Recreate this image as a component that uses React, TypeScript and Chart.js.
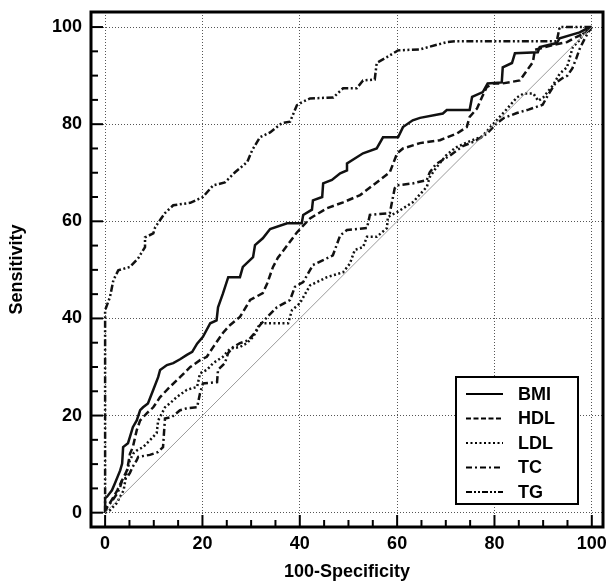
import React, { useEffect, useRef } from 'react';
import { Chart, registerables } from 'chart.js';

Chart.register(...registerables);

// ---------- data ----------
const SERIES_NAMES = ['BMI', 'HDL', 'LDL', 'TC', 'TG'];

const REF_X = [0, 100];
const REF_Y = [0, 100];

const BMI_X = [0, 0, 0.4, 1.4, 2, 3.1, 3.5, 3.7, 4.7, 5.1, 5.7, 6.5, 7.2, 7.8, 8.8, 9.9, 10.9, 11.3, 12.7, 14, 15.4, 16.8, 17.9, 18.9, 20.1, 21.6, 22.9, 23.2, 24.2, 25.3, 27.7, 28.3, 30.4, 30.8, 32.4, 33.9, 37.4, 40.4, 40.7, 42.5, 42.7, 44.6, 44.8, 46.6, 48.3, 49.7, 49.7, 53, 55.8, 57.1, 60.2, 61.2, 63.2, 64.7, 69.4, 70.2, 74.9, 75.4, 77.6, 78.6, 81.5, 81.7, 83.6, 84.2, 88.9, 89.3, 92.8, 93.4, 97.5, 99.2, 100];
const BMI_Y = [0, 3, 3.3, 4.6, 6, 8.7, 10.1, 13.5, 14.3, 15.6, 17.6, 19, 21.1, 21.7, 22.5, 25.3, 27.9, 29.4, 30.4, 30.8, 31.6, 32.5, 33.1, 34.8, 36.2, 39, 39.6, 42.3, 45.1, 48.5, 48.5, 50.6, 52.6, 55.1, 56.5, 58.4, 59.6, 59.6, 61.3, 62.4, 64.3, 65, 67.8, 68.5, 69.9, 70.5, 71.9, 74, 75, 77.3, 77.3, 79.4, 80.8, 81.3, 82.2, 82.9, 82.9, 85.6, 86.6, 88.4, 88.6, 91.7, 92.6, 94.6, 94.8, 95.9, 96.7, 97.7, 98.9, 99.8, 100];

const HDL_X = [0, 0.3, 1, 2.5, 3.5, 4.5, 5.1, 5.7, 6.5, 7.2, 8.6, 9.9, 11.3, 13.3, 15.4, 17.5, 19.5, 20.9, 22.2, 24.2, 25.5, 27.7, 29.8, 32.4, 33.3, 34.5, 35.5, 37.4, 39.4, 42.1, 45.6, 48.9, 52.4, 55, 58.5, 60, 61.2, 64.7, 68.8, 72.3, 74.3, 74.9, 76.4, 77.4, 78.4, 79.7, 81.7, 85.2, 86.7, 87.9, 88.3, 92, 94.9, 96.9, 99, 100];
const HDL_Y = [0, 1, 2, 4.6, 6.7, 8.7, 12.1, 13.5, 17, 19, 20.5, 21.7, 23.8, 25.9, 27.9, 30, 31.4, 32.1, 34.1, 37, 38.5, 40.3, 43.8, 45.2, 47.2, 50.6, 52.5, 55, 57.7, 60.6, 62.7, 63.9, 65.4, 67.4, 70.1, 74, 75, 76.1, 76.7, 78.1, 79.4, 81.5, 83.2, 85.5, 87.6, 88.4, 88.4, 89, 91.1, 92.8, 95.3, 96.3, 96.9, 98, 99, 100];

const LDL_X = [0, 1, 2.4, 3.8, 4.5, 5.1, 5.8, 6.5, 7.8, 9.2, 10.6, 10.9, 11.7, 12.3, 13.3, 14.7, 16.8, 18.9, 19.5, 20.9, 22.2, 24.2, 25.7, 27.7, 29.1, 30.4, 31.2, 31.8, 37.6, 38.4, 40, 42.1, 45.6, 48.9, 50.3, 51.3, 53, 53.8, 55.8, 57.9, 58.1, 60, 63.2, 66.1, 66.7, 68, 70, 72, 75, 77.5, 79.7, 82, 84.6, 86, 88, 89, 90, 92, 93.4, 94.9, 95.5, 96.1, 97.5, 98.2, 100];
const LDL_Y = [0, 0.5, 2, 4.6, 8.7, 10.8, 12.2, 12.8, 13.5, 14.9, 16.4, 19, 20.5, 21.7, 22.5, 23.8, 25.3, 25.9, 28.7, 29.4, 30.8, 32.1, 33.8, 34.1, 34.9, 36.2, 37.6, 39, 39, 41.7, 43.1, 46.8, 48.5, 49.5, 51.3, 54.1, 54.7, 56.8, 56.8, 58.6, 60.9, 61.9, 63.9, 67.1, 69.1, 71, 73.5, 75.2, 76.5, 77.5, 80, 82.5, 85.5, 86.3, 86.3, 84.8, 85.5, 88, 90.4, 91.7, 93.8, 95.9, 97.3, 98.6, 100];

const TC_X = [0, 0.4, 1.5, 2.5, 3.1, 3.5, 4.5, 5.1, 5.7, 6.5, 6.8, 9.2, 10.9, 11.9, 12.3, 13.7, 15.4, 16.8, 18.9, 19.5, 20.1, 23, 23.2, 24.6, 25.3, 26.3, 27.7, 29.4, 30.4, 31.8, 33.5, 35.3, 38, 39, 40.7, 42.7, 44.8, 46.8, 48.3, 49.7, 53.8, 54.4, 58.5, 59.5, 60, 63.2, 66.1, 66.7, 68, 70.8, 73.5, 76, 78.4, 80.5, 82, 84.6, 87, 89.9, 91, 92.5, 94, 95, 96, 96.8, 97.5, 98.5, 99.3, 100];
const TC_Y = [0, 1.2, 2.5, 4, 5.3, 6.7, 7.3, 8.2, 9.5, 10.8, 11.5, 11.9, 12.5, 13.5, 19.4, 19.7, 21.1, 21.5, 21.7, 24.6, 26.6, 26.9, 29.4, 30.8, 32.9, 34.1, 34.9, 35.5, 36.6, 38.6, 40.5, 42.3, 43.8, 46.5, 47.5, 51, 52, 53, 57.1, 58.2, 58.6, 61.3, 61.7, 66.8, 67.4, 67.8, 68.5, 70.1, 71.8, 73.5, 75.5, 76.5, 78, 80.2, 81.3, 82.3, 83, 84, 86, 88.4, 89.5, 90, 91.5, 93.5, 95.5, 97.5, 99, 100];

const TG_X = [0, 0, 1, 1.7, 2.7, 5.1, 6.8, 8.2, 8.2, 9.9, 10.3, 12.3, 14, 17.5, 20.1, 22.2, 24.6, 26.7, 29.2, 30.2, 31.8, 33.9, 36.3, 38, 39.4, 40.4, 42.1, 46.9, 48.9, 51.7, 53, 55.4, 55.8, 57.9, 60.2, 64.7, 70.2, 72.3, 92.8, 93.4, 100];
const TG_Y = [0, 41.7, 44.4, 47.9, 49.9, 50.6, 52.4, 54.7, 56.7, 57.5, 58.8, 61.7, 63.3, 63.8, 65, 67.4, 68, 70.1, 72.2, 74.6, 77.3, 78.3, 80.2, 80.5, 83.9, 84.5, 85.3, 85.5, 87.4, 87.4, 89, 89.2, 92.6, 93.8, 95.2, 95.4, 96.9, 97.1, 97.1, 100, 100];

const TICK_VALUES = [0, 20, 40, 60, 80, 100];
const MINOR_TICK_VALUES = [0, 5, 10, 15, 20, 25, 30, 35, 40, 45, 50, 55, 60, 65, 70, 75, 80, 85, 90, 95, 100];

const X_TITLE = '100-Specificity';
const Y_TITLE = 'Sensitivity';

// ---------- styles ----------
const FONT_FAMILY = '"Liberation Sans", Arial, Helvetica, sans-serif';
const DASHES: number[][] = [[], [7, 3.5], [2, 2.5], [7, 3, 2, 3], [7, 2.5, 2, 2.5, 2, 2.5]];
const LEGEND_DASHES: number[][] = [[], [5, 2.5], [2, 2.5], [6, 3, 2, 3], [6, 2, 2, 2, 2, 2]];

const mk = (xs: number[], ys: number[]) => xs.map((x, i) => ({ x, y: ys[i] }));

const SERIES_X = [BMI_X, HDL_X, LDL_X, TC_X, TG_X];
const SERIES_Y = [BMI_Y, HDL_Y, LDL_Y, TC_Y, TG_Y];

const framePlugin = {
  id: 'rocFrame',
  afterDatasetsDraw(chart: any) {
    const { ctx, chartArea: a, scales } = chart;
    const xs = scales.x;
    const ys = scales.y;
    ctx.save();
    ctx.strokeStyle = '#000';
    ctx.setLineDash([]);
    ctx.lineWidth = 2;
    MINOR_TICK_VALUES.forEach((v) => {
      const len = v % 20 === 0 ? 12 : 7;
      const px = xs.getPixelForValue(v);
      ctx.beginPath();
      ctx.moveTo(px, a.bottom);
      ctx.lineTo(px, a.bottom - len);
      ctx.stroke();
      const py = ys.getPixelForValue(v);
      ctx.beginPath();
      ctx.moveTo(a.left, py);
      ctx.lineTo(a.left + len, py);
      ctx.stroke();
    });
    ctx.lineWidth = 3;
    ctx.strokeRect(a.left, a.top, a.right - a.left, a.bottom - a.top);

    // legend box
    const bw = 122;
    const bh = 127;
    const bx = a.right - 25 - bw;
    const by = a.bottom - 23 - bh;
    ctx.fillStyle = '#fff';
    ctx.fillRect(bx, by, bw, bh);
    ctx.lineWidth = 2;
    ctx.strokeRect(bx, by, bw, bh);
    ctx.font = `bold 18px ${FONT_FAMILY}`;
    ctx.textBaseline = 'middle';
    ctx.textAlign = 'left';
    ctx.fillStyle = '#000';
    SERIES_NAMES.forEach((name, i) => {
      const ry = by + 17 + i * 24.5;
      ctx.lineWidth = 2;
      ctx.setLineDash(LEGEND_DASHES[i]);
      ctx.beginPath();
      ctx.moveTo(bx + 10, ry);
      ctx.lineTo(bx + 47, ry);
      ctx.stroke();
      ctx.setLineDash([]);
      ctx.fillText(name, bx + 62, ry + 1);
    });
    ctx.restore();
  },
};

export default function App() {
  const ref = useRef<HTMLCanvasElement | null>(null);

  useEffect(() => {
    document.body.style.margin = '0';
    const canvas = ref.current;
    if (!canvas) return;
    const datasets: any[] = [
      {
        label: 'reference',
        data: mk(REF_X, REF_Y),
        borderColor: '#9a9a9a',
        borderWidth: 1,
        pointRadius: 0,
        tension: 0,
      },
    ];
    SERIES_NAMES.forEach((name, i) => {
      datasets.push({
        label: name,
        data: mk(SERIES_X[i], SERIES_Y[i]),
        borderColor: '#111',
        borderWidth: 2.5,
        borderDash: DASHES[i],
        pointRadius: 0,
        tension: 0,
        fill: false,
      });
    });

    const tickFont = { family: FONT_FAMILY, size: 18, weight: 'bold' as const };
    const titleFont = { family: FONT_FAMILY, size: 18, weight: 'bold' as const };

    const chart = new Chart(canvas, {
      type: 'line',
      data: { datasets },
      plugins: [framePlugin],
      options: {
        animation: false,
        responsive: false,
        maintainAspectRatio: false,
        layout: { padding: { top: 12, right: 4, left: 0, bottom: 0 } },
        plugins: { legend: { display: false }, tooltip: { enabled: false } },
        scales: {
          x: {
            type: 'linear',
            min: -2.9,
            max: 102.3,
            afterBuildTicks: (s: any) => {
              s.ticks = TICK_VALUES.map((v) => ({ value: v }));
            },
            afterFit: (s: any) => {
              s.height = 56;
              s.paddingLeft = 0;
              s.paddingRight = 0;
            },
            grid: { color: '#555', lineWidth: 1, drawTicks: false },
            border: { display: false, dash: [1, 2] },
            ticks: { padding: 6, color: '#000', font: tickFont, maxRotation: 0, autoSkip: false },
            title: { display: true, text: X_TITLE, color: '#000', font: titleFont, padding: { top: 0, bottom: 0 } },
          },
          y: {
            type: 'linear',
            min: -2.95,
            max: 103.1,
            afterBuildTicks: (s: any) => {
              s.ticks = TICK_VALUES.map((v) => ({ value: v }));
            },
            afterFit: (s: any) => {
              s.width = 91;
              s.paddingTop = 0;
              s.paddingBottom = 0;
            },
            grid: { color: '#555', lineWidth: 1, drawTicks: false },
            border: { display: false, dash: [1, 2] },
            ticks: { padding: 9, color: '#000', font: tickFont, autoSkip: false },
            title: { display: true, text: Y_TITLE, color: '#000', font: titleFont, padding: { top: 6, bottom: 0 } },
          },
        },
      } as any,
    });
    return () => chart.destroy();
  }, []);

  return (
    <div style={{ position: 'absolute', left: 0, top: 0, width: 607, height: 583, background: '#fff' }}>
      <canvas ref={ref} width={607} height={583} style={{ display: 'block' }} />
    </div>
  );
}
